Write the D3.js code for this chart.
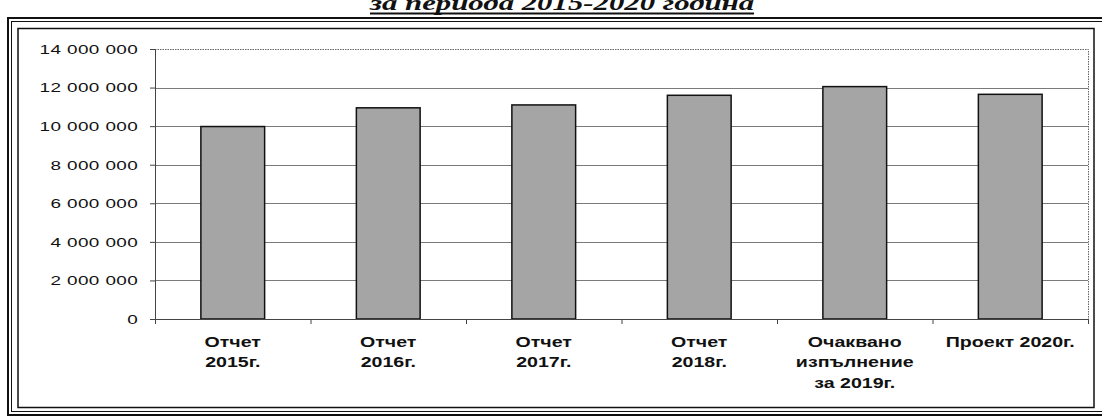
<!DOCTYPE html>
<html>
<head>
<meta charset="utf-8">
<script src="https://cdn.jsdelivr.net/npm/d3@7"></script>
<style>
  body { margin: 0; background: #fff; }
  svg { display: block; }
</style>
</head>
<body>
<div id="chart"></div>
<script>
const width = 1102,
  height = 417;

// data
const categories = ['Отчет\n2015г.', 'Отчет\n2016г.', 'Отчет\n2017г.', 'Отчет\n2018г.', 'Очаквано\nизпълнение\nза 2019г.', 'Проект 2020г.'];
const values = [9980000, 10950000, 11100000, 11600000, 12050000, 11650000];
const yTicks = [0, 2000000, 4000000, 6000000, 8000000, 10000000, 12000000, 14000000];
const title = 'за периода 2015-2020 година';

const stretch = 1.4; // the scan is wider than it is tall

const plot = { left: 155, right: 1088, top: 49, bottom: 319 };

const svg = d3.select('#chart').append('svg')
  .attr('width', width)
  .attr('height', height);

// frame: double outer line and a single inner line
const frame = svg.append('g').attr('fill', 'none').attr('stroke', '#111');
frame.append('rect').attr('x', 8).attr('y', 18).attr('width', 1100).attr('height', 397).attr('stroke-width', 2);
frame.append('rect').attr('x', 11.5).attr('y', 21.5).attr('width', 1100).attr('height', 390).attr('stroke-width', 1);
frame.append('rect').attr('x', 18).attr('y', 28.5).attr('width', 1076).attr('height', 379).attr('stroke-width', 1.5);

// title (cut off at the top, as in the scan)
const t = svg.append('text')
  .attr('transform', `translate(562,10) scale(${stretch},1)`)
  .attr('text-anchor', 'middle')
  .style('font-family', '"Liberation Serif", serif')
  .style('font-weight', 'bold')
  .style('font-style', 'italic')
  .style('font-size', '22px')
  .attr('fill', '#111')
  .text(title);
const tw = t.node().getComputedTextLength() * stretch;
svg.append('line')
  .attr('x1', 562 - tw / 2).attr('x2', 562 + tw / 2)
  .attr('y1', 13.5).attr('y2', 13.5)
  .attr('stroke', '#111').attr('stroke-width', 2);

const x = d3.scaleBand()
  .domain(categories)
  .range([plot.left, plot.right])
  .paddingInner(0.59)
  .paddingOuter(0.295);

const y = d3.scaleLinear()
  .domain([0, 14000000])
  .range([plot.bottom, plot.top]);

const fmt = v => d3.format(',')(v).replace(/,/g, ' ');

// gridlines
svg.append('g')
  .selectAll('line')
  .data(yTicks.slice(1, -1))
  .enter().append('line')
  .attr('x1', plot.left).attr('x2', plot.right)
  .attr('y1', d => Math.round(y(d)) + 0.5).attr('y2', d => Math.round(y(d)) + 0.5)
  .attr('stroke', '#7a7a7a');

// plot area border top/right (dotted)
svg.append('path')
  .attr('d', `M${plot.left},${plot.top + 0.5}H${plot.right + 0.5}V${plot.bottom}`)
  .attr('fill', 'none')
  .attr('stroke', '#666')
  .attr('stroke-dasharray', '1.5,1');

// bars
svg.append('g')
  .selectAll('rect')
  .data(values)
  .enter().append('rect')
  .attr('x', (d, i) => x(categories[i]))
  .attr('y', d => y(d))
  .attr('width', x.bandwidth())
  .attr('height', d => y(0) - y(d))
  .attr('fill', '#a5a5a5')
  .attr('stroke', '#111')
  .attr('stroke-width', 1.5);

// y axis
const yAxis = svg.append('g')
  .attr('transform', `translate(${plot.left},0)`)
  .call(d3.axisLeft(y).tickValues(yTicks).tickSize(5).tickFormat(fmt));
yAxis.select('.domain').attr('stroke', '#444');
yAxis.selectAll('.tick line').attr('stroke', '#444');
yAxis.selectAll('.tick text')
  .attr('x', -12)
  .attr('transform', `scale(${stretch},1)`)
  .attr('fill', '#111')
  .style('font-family', '"Liberation Sans", Arial, sans-serif')
  .style('font-size', '13.5px')
  .style('letter-spacing', '0.3px');

// x axis: ticks at the category boundaries
const xb = d3.scaleLinear().domain([0, categories.length]).range([plot.left, plot.right]);
const xAxis = svg.append('g')
  .attr('transform', `translate(0,${plot.bottom})`)
  .call(d3.axisBottom(xb).ticks(categories.length).tickSize(5).tickFormat(''));
xAxis.select('.domain').attr('stroke', '#444');
xAxis.selectAll('.tick line').attr('stroke', '#444');

// category labels
const labels = svg.append('g')
  .selectAll('g')
  .data(categories)
  .enter().append('g')
  .attr('transform', d => `translate(${x(d) + x.bandwidth() / 2},347) scale(${stretch},1)`);
labels.append('text')
  .attr('text-anchor', 'middle')
  .attr('fill', '#111')
  .style('font-family', '"Liberation Sans", Arial, sans-serif')
  .style('font-weight', 'bold')
  .style('font-size', '14px')
  .selectAll('tspan')
  .data(d => d.split('\n'))
  .enter().append('tspan')
  .attr('x', 0)
  .attr('dy', (d, i) => i === 0 ? 0 : 20.5)
  .text(d => d);
</script>
</body>
</html>
